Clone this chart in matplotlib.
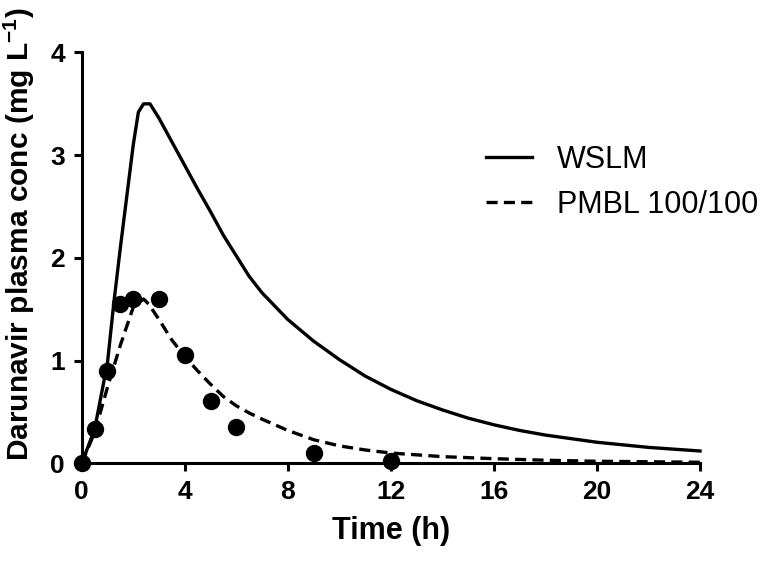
import matplotlib
matplotlib.use('Agg')
import matplotlib.pyplot as plt

# observed darunavir concentrations
obs_time = [0, 0.5, 1, 1.5, 2, 3, 4, 5, 6, 9, 12]
obs_conc = [0, 0.33, 0.9, 1.55, 1.6, 1.6, 1.05, 0.61, 0.35, 0.1, 0.02]

# WSLM prediction
wslm_time = [0, 0.5, 1, 1.25, 1.5, 1.75, 2, 2.2, 2.4, 2.65, 3, 3.5, 4, 4.5, 5,
             5.5, 6, 6.5, 7, 7.5, 8, 9, 10, 11, 12, 13, 14, 15, 16, 17, 18,
             20, 22, 24]
wslm_conc = [0, 0.33, 0.98, 1.57, 2.1, 2.6, 3.1, 3.42, 3.5, 3.5, 3.36, 3.13,
             2.9, 2.67, 2.45, 2.22, 2.02, 1.82, 1.66, 1.53, 1.4, 1.19, 1.01,
             0.85, 0.72, 0.61, 0.52, 0.44, 0.375, 0.32, 0.275, 0.205, 0.155,
             0.12]

# PMBL 100/100 prediction
pmbl_time = [0, 0.5, 1, 1.5, 2, 2.4, 2.6, 3, 3.5, 4, 4.5, 5, 5.5, 6, 6.5, 7,
             8, 9, 10, 11, 12, 14, 16, 18, 20, 22, 24]
pmbl_conc = [0, 0.3, 0.74, 1.15, 1.52, 1.6, 1.55, 1.4, 1.2, 1.04, 0.9, 0.77,
             0.65, 0.56, 0.49, 0.43, 0.32, 0.23, 0.17, 0.13, 0.1, 0.065, 0.045,
             0.03, 0.02, 0.015, 0.01]

x_ticks = [0, 4, 8, 12, 16, 20, 24]
y_ticks = [0, 1, 2, 3, 4]

plt.rcParams['font.family'] = ['Liberation Sans', 'DejaVu Sans']
plt.rcParams['mathtext.fontset'] = 'custom'
plt.rcParams['mathtext.rm'] = 'Liberation Sans:bold'
plt.rcParams['mathtext.default'] = 'rm'
plt.rcParams['lines.scale_dashes'] = False

fig = plt.figure(figsize=(7.79, 5.62), dpi=100)
ax = fig.add_axes([0.1049, 0.1756, 0.7937, 0.731])

ax.plot(wslm_time, wslm_conc, color='black', lw=2.4, label='WSLM',
        clip_on=False, zorder=3)
ax.plot(pmbl_time, pmbl_conc, color='black', lw=2.4, dashes=(8, 4.5),
        label='PMBL 100/100', clip_on=False, zorder=3)
ax.plot(obs_time, obs_conc, 'o', color='black', ms=11.5, clip_on=False,
        zorder=4)

ax.set_xlim(0, 24)
ax.set_ylim(0, 4)
ax.set_xticks(x_ticks)
ax.set_yticks(y_ticks)

for side in ['top', 'right']:
    ax.spines[side].set_visible(False)
for side in ['left', 'bottom']:
    ax.spines[side].set_linewidth(2.2)

ax.tick_params(length=6, width=2.2, pad=6)
for lab in ax.get_xticklabels() + ax.get_yticklabels():
    lab.set_fontweight('bold')
    lab.set_fontsize(19)

ax.set_xlabel('Time (h)', fontsize=22, fontweight='bold')
ax.set_ylabel(r'Darunavir plasma conc (mg L$^{-1}$)', fontsize=21.5,
              fontweight='bold')
ax.xaxis.set_label_coords(0.5, -0.128)
ax.yaxis.set_label_coords(-0.072, 0.557)

leg = ax.legend(loc='upper left', bbox_to_anchor=(0.61, 0.842), frameon=False,
                fontsize=22, handlelength=1.5, handletextpad=0.8,
                labelspacing=0.5)

fig.savefig('out.png', dpi=100)
